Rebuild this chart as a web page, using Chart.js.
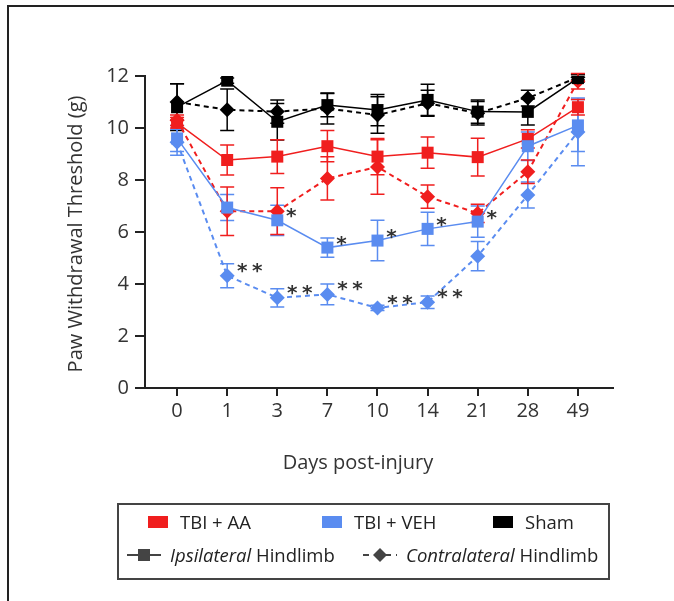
<!DOCTYPE html>
<html lang="en">
  <head>
    <meta charset="UTF-8" />
    <title>Paw Withdrawal Threshold</title>
    <script src="https://cdn.jsdelivr.net/npm/chart.js"></script>
    <style>
      body {
        margin: 0;
        padding: 0;
        background: #fff;
        overflow: hidden;
        font-family: "Open Sans", sans-serif;
      }
      .wrap {
        position: relative;
        width: 674px;
        height: 601px;
        overflow: hidden;
      }
      .frame {
        position: absolute;
        left: 7px;
        top: 5px;
        width: 760px;
        height: 700px;
        border: 2px solid #222;
      }
      canvas {
        position: absolute;
        left: 0;
        top: 0;
      }
      .legend {
        position: absolute;
        left: 117px;
        top: 503px;
        width: 489px;
        height: 73px;
        border: 2px solid #444;
        color: #222;
        font-size: 18.5px;
      }
      .item {
        position: absolute;
        display: flex;
        align-items: center;
        white-space: nowrap;
      }
      .sw {
        display: inline-block;
        width: 20px;
        height: 12px;
        margin-right: 12px;
      }
      .item svg {
        margin-right: 9px;
      }
    </style>
  </head>
  <body>
    <div class="wrap">
      <div class="frame"></div>
      <canvas id="pwtChart" width="674" height="601"></canvas>
      <div class="legend">
        <div class="item" style="left: 29px; top: 4px">
          <span class="sw" style="background: #f01e1e"></span>TBI + AA
        </div>
        <div class="item" style="left: 203px; top: 4px">
          <span class="sw" style="background: #5a8cf0"></span>TBI + VEH
        </div>
        <div class="item" style="left: 374px; top: 4px">
          <span class="sw" style="background: #000"></span>Sham
        </div>
        <div class="item" style="left: 8px; top: 37px">
          <svg width="34" height="14">
            <line x1="0" y1="7" x2="34" y2="7" stroke="#444" stroke-width="2" />
            <rect x="11" y="1" width="12" height="12" fill="#444" />
          </svg>
          <i>Ipsilateral</i>&nbsp;Hindlimb
        </div>
        <div class="item" style="left: 244px; top: 37px">
          <svg width="34" height="14">
            <line x1="0" y1="7" x2="34" y2="7" stroke="#444" stroke-width="2" stroke-dasharray="6,5" />
            <polygon points="17,0 24,7 17,14 10,7" fill="#444" />
          </svg>
          <i>Contralateral</i>&nbsp;Hindlimb
        </div>
      </div>
    </div>

    <script>
      const days = ["0", "1", "3", "7", "10", "14", "21", "28", "49"];

      const aaIpsi = [10.2, 8.77, 8.9, 9.3, 8.9, 9.05, 8.88, 9.58, 10.8];
      const aaIpsiErr = [0.2, 0.58, 0.65, 0.6, 0.7, 0.6, 0.73, 0.35, 0.3];
      const aaContra = [10.3, 6.8, 6.8, 8.06, 8.5, 7.36, 6.72, 8.32, 11.8];
      const aaContraErr = [0.2, 0.93, 0.9, 0.83, 1.05, 0.45, 0.35, 0.45, 0.3];

      const vehIpsi = [9.6, 6.94, 6.45, 5.4, 5.67, 6.12, 6.4, 9.3, 10.1];
      const vehIpsiErr = [0.5, 0.5, 0.58, 0.37, 0.78, 0.64, 0.6, 0.55, 1.0];
      const vehContra = [9.45, 4.32, 3.47, 3.6, 3.08, 3.3, 5.07, 7.42, 9.85];
      const vehContraErr = [0.5, 0.46, 0.35, 0.4, 0.1, 0.24, 0.56, 0.5, 1.3];

      const shamIpsi = [10.8, 11.82, 10.24, 10.88, 10.69, 11.08, 10.63, 10.62, 11.92];
      const shamIpsiErr = [0.9, 0.1, 0.7, 0.45, 0.6, 0.6, 0.45, 0.5, 0.15];
      const shamContra = [11.0, 10.7, 10.63, 10.75, 10.5, 10.95, 10.57, 11.15, 11.95];
      const shamContraErr = [0.7, 0.8, 0.45, 0.6, 0.7, 0.5, 0.45, 0.3, 0.1];

      const vehIpsiStars = ["", "", "*", "*", "*", "*", "*", "", ""];
      const vehContraStars = ["", "**", "**", "**", "**", "**", "", "", ""];

      const RED = "#f01e1e";
      const BLUE = "#5a8cf0";
      const BLACK = "#000";

      function toPoints(values) {
        return values.map((v, i) => ({ x: i, y: v }));
      }

      function series(values, errors, color, contra, stars) {
        return {
          data: toPoints(values),
          errors: errors,
          stars: stars || null,
          borderColor: color,
          backgroundColor: color,
          borderWidth: contra ? 2 : 1.5,
          borderDash: contra ? [5, 4] : [],
          pointStyle: contra ? "rectRot" : "rect",
          pointRadius: contra ? 7.5 : 8.5,
          pointBorderWidth: 0,
          pointBackgroundColor: color,
          tension: 0,
        };
      }

      // vertical error bars with caps, drawn under the lines and markers
      const errorBars = {
        id: "errorBars",
        beforeDatasetsDraw(chart) {
          const ctx = chart.ctx;
          const xs = chart.scales.x;
          const ys = chart.scales.y;
          ctx.save();
          chart.data.datasets.forEach((ds) => {
            ctx.strokeStyle = ds.borderColor;
            ctx.lineWidth = 1.5;
            ctx.setLineDash([]);
            ds.data.forEach((p, i) => {
              const e = ds.errors[i];
              const x = xs.getPixelForValue(p.x);
              const top = ys.getPixelForValue(p.y + e);
              const bot = ys.getPixelForValue(p.y - e);
              ctx.beginPath();
              ctx.moveTo(x, top);
              ctx.lineTo(x, bot);
              ctx.moveTo(x - 7, top);
              ctx.lineTo(x + 7, top);
              ctx.moveTo(x - 7, bot);
              ctx.lineTo(x + 7, bot);
              ctx.stroke();
            });
          });
          ctx.restore();
        },
      };

      // significance stars and axis titles
      const annotations = {
        id: "annotations",
        afterDraw(chart) {
          const ctx = chart.ctx;
          const xs = chart.scales.x;
          const ys = chart.scales.y;
          ctx.save();
          ctx.fillStyle = "#333";
          ctx.font = "bold 20px 'DejaVu Sans'";
          ctx.textAlign = "center";
          ctx.textBaseline = "alphabetic";
          const m = ctx.measureText("*");
          const mid = (m.actualBoundingBoxAscent - m.actualBoundingBoxDescent) / 2;
          chart.data.datasets.forEach((ds) => {
            if (!ds.stars) return;
            const dx = ds.stars === vehContraStars ? 15 : 14;
            const dy = ds.stars === vehContraStars ? -8 : -7;
            ds.data.forEach((p, i) => {
              const s = ds.stars[i];
              const x = xs.getPixelForValue(p.x) + dx;
              const y = ys.getPixelForValue(p.y) + dy;
              for (let k = 0; k < s.length; k++) {
                ctx.fillText("*", x + k * 15, y + mid);
              }
            });
          });

          ctx.fillStyle = "#333";
          ctx.font = "20px 'Open Sans'";
          ctx.textBaseline = "middle";
          ctx.fillText("Days post-injury", 358, 463);
          ctx.translate(76, 234);
          ctx.rotate(-Math.PI / 2);
          ctx.fillText("Paw Withdrawal Threshold (g)", 0, 0);
          ctx.restore();
        },
      };

      const ctx = document.getElementById("pwtChart").getContext("2d");
      new Chart(ctx, {
        type: "line",
        data: {
          datasets: [
            series(shamIpsi, shamIpsiErr, BLACK, false),
            series(shamContra, shamContraErr, BLACK, true),
            series(vehIpsi, vehIpsiErr, BLUE, false, vehIpsiStars),
            series(vehContra, vehContraErr, BLUE, true, vehContraStars),
            series(aaIpsi, aaIpsiErr, RED, false),
            series(aaContra, aaContraErr, RED, true),
          ],
        },
        options: {
          responsive: false,
          animation: false,
          layout: { padding: { left: 0, right: 61, top: 76, bottom: 0 } },
          plugins: {
            legend: { display: false },
            tooltip: { enabled: false },
          },
          scales: {
            x: {
              type: "linear",
              min: -0.64,
              max: 8.7,
              afterFit(scale) {
                scale.height = 213;
              },
              afterBuildTicks(scale) {
                scale.ticks = days.map((d, i) => ({ value: i }));
              },
              ticks: {
                callback: (v) => days[v],
                color: "#333",
                font: { family: "Open Sans", size: 20 },
                padding: 3,
                maxRotation: 0,
              },
              grid: {
                drawOnChartArea: false,
                drawTicks: true,
                tickLength: 8,
                color: "#222",
                lineWidth: 2,
              },
              border: { display: true, color: "#222", width: 2 },
            },
            y: {
              min: 0,
              max: 12,
              afterFit(scale) {
                scale.width = 145;
              },
              ticks: {
                stepSize: 2,
                color: "#333",
                font: { family: "Open Sans", size: 20 },
                padding: 6,
              },
              grid: {
                drawOnChartArea: false,
                drawTicks: true,
                tickLength: 10,
                color: "#222",
                lineWidth: 2,
              },
              border: { display: true, color: "#222", width: 2 },
            },
          },
        },
        plugins: [errorBars, annotations],
      });
    </script>
  </body>
</html>
